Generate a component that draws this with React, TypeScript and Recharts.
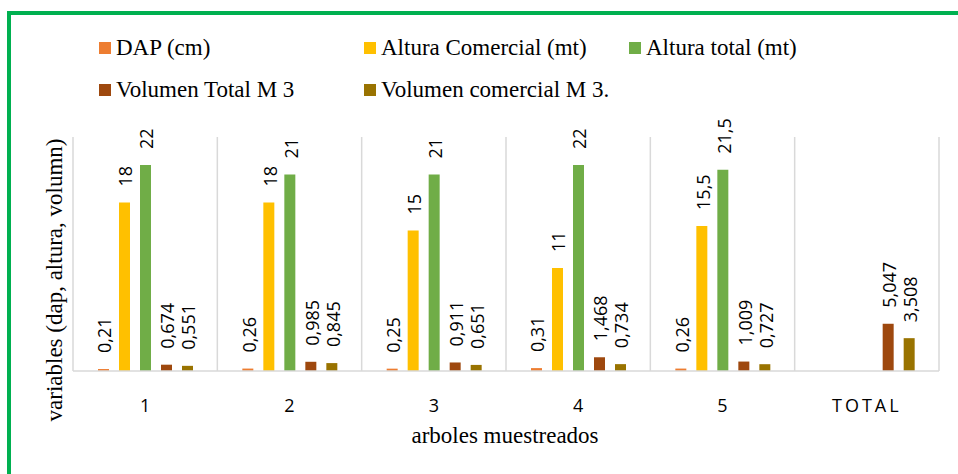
import { BarChart, Bar, XAxis, YAxis, CartesianGrid, LabelList, Legend } from "recharts"

const categories = ["1", "2", "3", "4", "5", "TOTAL"]
const dap = [0.21, 0.26, 0.25, 0.31, 0.26, null]
const alturaComercial = [18, 18, 15, 11, 15.5, null]
const alturaTotal = [22, 21, 21, 22, 21.5, null]
const volumenTotal = [0.674, 0.985, 0.911, 1.468, 1.009, 5.047]
const volumenComercial = [0.551, 0.845, 0.651, 0.734, 0.727, 3.508]

const series = [
  { key: "dap", name: "DAP (cm)", color: "#ED7D31" },
  { key: "altCom", name: "Altura Comercial (mt)", color: "#FFC000" },
  { key: "altTot", name: "Altura total (mt)", color: "#70AD47" },
  { key: "volTot", name: "Volumen Total M 3", color: "#9E480E" },
  { key: "volCom", name: "Volumen comercial M 3.", color: "#997300" },
]

const data = categories.map((c, i) => ({
  name: c,
  idx: i,
  dap: dap[i],
  altCom: alturaComercial[i],
  altTot: alturaTotal[i],
  volTot: volumenTotal[i],
  volCom: volumenComercial[i],
}))

const serif = "'Liberation Serif', 'Times New Roman', serif"
const sans = "'Open Sans', 'Noto Sans', sans-serif"

// value labels, rotated like Excel's
function RotLabel(props: any) {
  const { x, y, width, value } = props
  if (value == null) return null
  const cx = x + width / 2 + 1
  const cy = y - 16
  return (
    <text
      x={cx}
      y={cy}
      transform={`rotate(-90 ${cx} ${cy})`}
      textAnchor="start"
      dominantBaseline="central"
      fontFamily={sans}
      fontSize={18}
      fill="#000"
    >
      {String(value).replace(".", ",")}
    </text>
  )
}

function CatTick(props: any) {
  const { x, y, payload } = props
  const isTotal = payload.value === "TOTAL"
  return (
    <text
      x={x}
      y={y + 26}
      textAnchor="middle"
      dominantBaseline="central"
      fontFamily={sans}
      fontSize={18}
      letterSpacing={isTotal ? 3 : 0}
      fill="#000"
    >
      {payload.value}
    </text>
  )
}

function LegendBox() {
  const pos = [
    [99, 48],
    [364, 48],
    [629, 48],
    [99, 90],
    [364, 90],
  ]
  return (
    <div style={{ position: "relative", width: 958, height: 120 }}>
      {series.map((s, i) => (
        <div
          key={s.key}
          style={{
            position: "absolute",
            left: pos[i][0],
            top: pos[i][1] - 15,
            height: 30,
            display: "flex",
            alignItems: "center",
            whiteSpace: "nowrap",
            fontFamily: serif,
            fontSize: 23,
            color: "#000",
          }}
        >
          <span style={{ display: "inline-block", width: 12, height: 12, background: s.color, marginRight: 5 }} />
          {s.name}
        </div>
      ))}
    </div>
  )
}

export default function App() {
  return (
    <div style={{ position: "fixed", left: 0, top: 0, width: 958, height: 474, overflow: "hidden", background: "#fff" }}>
      <div
        style={{
          position: "absolute",
          left: 7,
          top: 11,
          width: 1000,
          height: 500,
          border: "4px solid #00B050",
        }}
      />
      <div style={{ position: "absolute", left: 0, top: 0 }}>
        <BarChart
          width={958}
          height={474}
          data={data}
          margin={{ top: 137, right: 19, bottom: 0, left: 73 }}
          barSize={11}
          barGap={10}
        >
          <XAxis xAxisId="grid" type="number" dataKey="idx" domain={[0, 6]} ticks={[0, 1, 2, 3, 4, 5, 6]} hide />
          <CartesianGrid xAxisId="grid" horizontal={false} stroke="#D9D9D9" strokeWidth={1.5} />
          <XAxis
            dataKey="name"
            height={103}
            tickLine={false}
            axisLine={{ stroke: "#D9D9D9", strokeWidth: 1.5 }}
            tick={<CatTick />}
            interval={0}
          />
          <YAxis hide domain={[0, 25]} />
          <Legend verticalAlign="top" content={() => null} />
          {series.map((s) => (
            <Bar key={s.key} dataKey={s.key} name={s.name} fill={s.color} isAnimationActive={false}>
              <LabelList dataKey={s.key} content={<RotLabel />} />
            </Bar>
          ))}
        </BarChart>
      </div>
      <div style={{ position: "absolute", left: 0, top: 0 }}>
        <LegendBox />
      </div>
      <div
        style={{
          position: "absolute",
          left: 0,
          width: 1010,
          top: 423,
          textAlign: "center",
          fontFamily: serif,
          fontSize: 23,
          color: "#000",
        }}
      >
        arboles muestreados
      </div>
      <div
        style={{
          position: "absolute",
          left: 55,
          top: 280,
          transform: "translate(-50%, -50%) rotate(-90deg)",
          whiteSpace: "nowrap",
          fontFamily: serif,
          fontSize: 23,
          color: "#000",
        }}
      >
        variables (dap, altura, volumn)
      </div>
    </div>
  )
}
